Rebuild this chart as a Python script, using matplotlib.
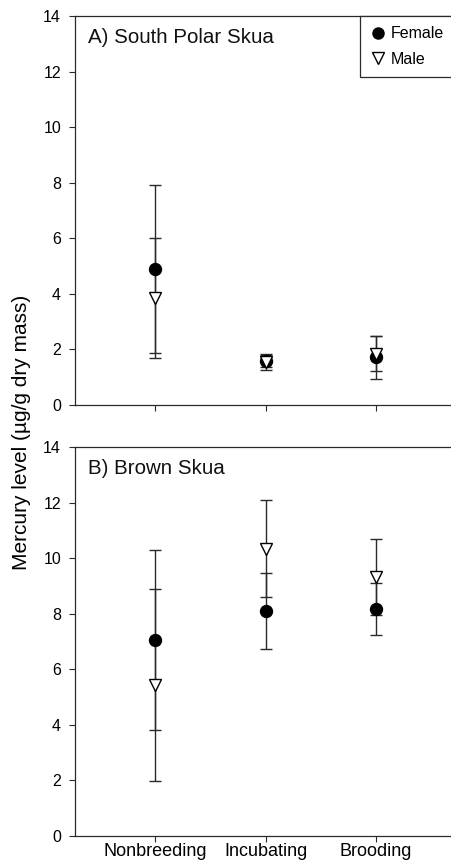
import matplotlib
matplotlib.use("Agg")
import matplotlib.pyplot as plt
from matplotlib.lines import Line2D

plt.rcParams['font.family'] = ['Liberation Sans', 'DejaVu Sans']

stages = ["Nonbreeding", "Incubating", "Brooding"]
ytick_vals = [0, 2, 4, 6, 8, 10, 12, 14]

# A) South Polar Skua
spsk_female_mean = [4.89, 1.58, 1.72]
spsk_female_err = [3.03, 0.22, 0.77]
spsk_male_mean = [3.85, 1.55, 1.85]
spsk_male_err = [2.15, 0.28, 0.62]

# B) Brown Skua
brsk_female_mean = [7.05, 8.10, 8.17]
brsk_female_err = [3.24, 1.38, 0.95]
brsk_male_mean = [5.43, 10.34, 9.31]
brsk_male_err = [3.45, 1.75, 1.37]

panels = [
    ("A) South Polar Skua", spsk_female_mean, spsk_female_err, spsk_male_mean, spsk_male_err),
    ("B) Brown Skua", brsk_female_mean, brsk_female_err, brsk_male_mean, brsk_male_err),
]

W, H = 451, 865
fig = plt.figure(figsize=(W / 100, H / 100), dpi=100)

ax_left = 75 / W
ax_width = 385 / W
tops = [16, 447]
bottoms = [405, 836]

line_col = '#2a2a2a'
xs = [1, 2, 3]

axes = []
for i, (title, fm, fe, mm, me) in enumerate(panels):
    b = 1 - bottoms[i] / H
    h = (bottoms[i] - tops[i]) / H
    ax = fig.add_axes([ax_left, b, ax_width, h])
    axes.append(ax)
    ax.errorbar(xs, fm, yerr=fe, fmt='none', ecolor=line_col, elinewidth=1.0,
                capsize=4.5, capthick=1.0, zorder=2)
    ax.errorbar(xs, mm, yerr=me, fmt='none', ecolor=line_col, elinewidth=1.0,
                capsize=4.5, capthick=1.0, zorder=2)
    ax.plot(xs, fm, linestyle='none', marker='o', markersize=8.6,
            markerfacecolor='black', markeredgecolor='black', zorder=3)
    ax.plot(xs, mm, linestyle='none', marker='v', markersize=9,
            markerfacecolor='white', markeredgecolor='black', markeredgewidth=1.0, zorder=4)

    ax.set_xlim(0.276, 3.76)
    ax.set_ylim(0, 14)
    ax.set_yticks(ytick_vals)
    ax.set_xticks(xs)
    if i == 1:
        ax.set_xticklabels(stages, fontsize=13)
    else:
        ax.set_xticklabels([])
    ax.tick_params(axis='y', direction='out', length=4, width=0.8, labelsize=11.5,
                   pad=6, colors=line_col, labelcolor='black')
    ax.tick_params(axis='x', direction='out', length=4, width=0.8, pad=1,
                   colors=line_col, labelcolor='black')
    for s in ['left', 'bottom', 'top']:
        ax.spines[s].set_color(line_col)
        ax.spines[s].set_linewidth(0.9)
    ax.spines['right'].set_visible(False)
    ax.text(0.034, 1 - 12 / 389, title, transform=ax.transAxes, fontsize=14.8,
            ha='left', va='top', color='#111111')

handles = [
    Line2D([], [], linestyle='none', marker='o', markersize=8, markerfacecolor='black',
           markeredgecolor='black'),
    Line2D([], [], linestyle='none', marker='v', markersize=8.5, markerfacecolor='white',
           markeredgecolor='black', markeredgewidth=1.0),
]
leg = axes[0].legend(handles, ["Female", "Male"], loc='upper left',
                     bbox_to_anchor=((360 - 75) / 385, 1.0), fontsize=11.5,
                     frameon=True, fancybox=False, framealpha=1, edgecolor=line_col,
                     handlelength=0.9, handletextpad=0.4, borderpad=0.65,
                     labelspacing=0.65, borderaxespad=0)
leg.get_frame().set_linewidth(0.9)

fig.text(22 / W, 1 - 432 / H, "Mercury level (\u00b5g/g dry mass)", rotation=90,
         ha='center', va='center', fontsize=15)

fig.savefig("out.png", dpi=100)
